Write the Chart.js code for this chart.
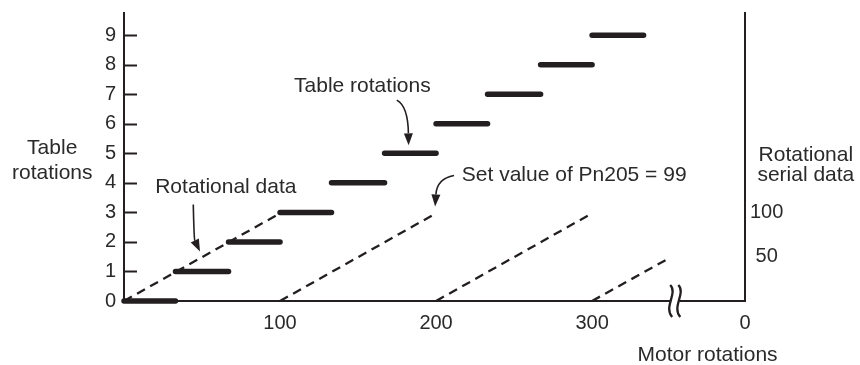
<!DOCTYPE html>
<html>
<head>
<meta charset="utf-8">
<script src="https://cdn.jsdelivr.net/npm/chart.js@4.4.1/dist/chart.umd.min.js"></script>
<style>
  html, body { margin: 0; padding: 0; background: #fff; }
  #wrap { width: 860px; height: 365px; }
</style>
</head>
<body>
<div id="wrap"><canvas id="chart"></canvas></div>
<script>
// table rotations, one flat step per level (motor rotations)
var stepLevels = [0, 1, 2, 3, 4, 5, 6, 7, 8, 9];
var stepStart = [0, 33, 67, 100, 133, 167, 200, 233, 267, 300];
var stepEnd = [33, 67, 100, 133, 167, 200, 233, 267, 300, 333];

// rotational serial data (right axis), starts again every 100 motor rotations
var serialStart = [0, 100, 200, 300];
var serialEnd = [100, 200, 300, 348];
var serialTop = [99, 99, 99, 47];

var leftTicks = [0, 1, 2, 3, 4, 5, 6, 7, 8, 9];
var rightTicks = [50, 100];
var xTicks = [100, 200, 300, 398];
var xTickLabels = ['100', '200', '300', '0'];

var xMax = 398;
var leftMax = 9.75;
var rightMax = leftMax * 100 / 3; // serial 100 lines up with table 3

var ink = '#231f20';
var txt = '#2a2a2a';
var fontFamily = '"Liberation Sans", Arial, sans-serif';

var stepData = [];
stepLevels.forEach(function (lvl, i) {
    stepData.push({x: stepStart[i], y: lvl}, {x: stepEnd[i], y: lvl}, {x: stepEnd[i], y: null});
});

var serialData = [];
serialStart.forEach(function (s, i) {
    serialData.push({x: s, y: 0}, {x: serialEnd[i], y: serialTop[i]}, {x: serialEnd[i], y: null});
});

// labels and arrows, placed in data units
var notes = [
    {text: 'Table', x: -46, y: 5.17, align: 'center'},
    {text: 'rotations', x: -46, y: 4.32, align: 'center'},
    {text: 'Rotational data', x: 20, y: 3.85, align: 'left'},
    {text: 'Table rotations', x: 109, y: 7.27, align: 'left'},
    {text: 'Set value of Pn205 = 99', x: 216.5, y: 4.25, align: 'left'},
    {text: 'Rotational', x: 437, y: 4.93, align: 'center'},
    {text: 'serial data', x: 437, y: 4.25, align: 'center'},
    {text: 'Motor rotations', x: 374, y: -1.85, align: 'center'}
];
var arrows = [
    {from: [44.4, 3.27], ctrl: [44.9, 2.1], to: [48.7, 1.68]},
    {from: [174.8, 6.8], ctrl: [182, 6.6], to: [182.4, 5.27]},
    {from: [211.5, 4.25], ctrl: [200.6, 4.15], to: [199.4, 3.2]}
];
var breakMarks = [350.7, 355.9];

var extras = {
    id: 'extras',
    afterDraw: function (chart) {
        var ctx = chart.ctx;
        var xs = chart.scales.x, ys = chart.scales.y;
        var area = chart.chartArea;
        ctx.save();

        // inward tick marks on the left axis
        ctx.strokeStyle = ink;
        ctx.lineWidth = 2;
        leftTicks.forEach(function (t) {
            if (t === 0) return;
            var py = Math.round(ys.getPixelForValue(t)) + 0.5;
            ctx.beginPath();
            ctx.moveTo(area.left, py);
            ctx.lineTo(area.left + 13, py);
            ctx.stroke();
        });

        // axis break
        var by = area.bottom;
        var b0 = xs.getPixelForValue(breakMarks[0]);
        var b1 = xs.getPixelForValue(breakMarks[1]);
        ctx.fillStyle = '#fff';
        ctx.fillRect(b0, by - 2, b1 - b0, 4);
        ctx.lineWidth = 2.3;
        breakMarks.forEach(function (bx) {
            var px = xs.getPixelForValue(bx);
            ctx.beginPath();
            ctx.moveTo(px - 1, by - 16);
            ctx.bezierCurveTo(px + 7, by - 8, px - 8, by + 6, px + 1, by + 16);
            ctx.stroke();
        });

        // arrows
        ctx.lineWidth = 1.6;
        ctx.fillStyle = ink;
        arrows.forEach(function (a) {
            var x0 = xs.getPixelForValue(a.from[0]), y0 = ys.getPixelForValue(a.from[1]);
            var cx = xs.getPixelForValue(a.ctrl[0]), cy = ys.getPixelForValue(a.ctrl[1]);
            var x1 = xs.getPixelForValue(a.to[0]), y1 = ys.getPixelForValue(a.to[1]);
            var ang = Math.atan2(y1 - cy, x1 - cx);
            var len = 12, half = 4.5;
            var bx = x1 - len * Math.cos(ang), byy = y1 - len * Math.sin(ang);
            ctx.beginPath();
            ctx.moveTo(x0, y0);
            ctx.quadraticCurveTo(cx, cy, bx, byy);
            ctx.stroke();
            ctx.beginPath();
            ctx.moveTo(x1, y1);
            ctx.lineTo(bx + half * Math.sin(ang), byy - half * Math.cos(ang));
            ctx.lineTo(bx - half * Math.sin(ang), byy + half * Math.cos(ang));
            ctx.closePath();
            ctx.fill();
        });

        // texts
        ctx.fillStyle = txt;
        ctx.font = '21px ' + fontFamily;
        ctx.textBaseline = 'middle';
        notes.forEach(function (n) {
            ctx.textAlign = n.align;
            ctx.fillText(n.text, xs.getPixelForValue(n.x), ys.getPixelForValue(n.y));
        });
        ctx.restore();
    }
};

var ctx = document.getElementById('chart').getContext('2d');
new Chart(ctx, {
    type: 'line',
    data: {
        datasets: [{
            label: 'Table rotations',
            data: stepData,
            yAxisID: 'y',
            borderColor: ink,
            borderWidth: 5.5,
            borderCapStyle: 'round',
            pointRadius: 0,
            spanGaps: false,
            clip: false
        }, {
            label: 'Rotational serial data',
            data: serialData,
            yAxisID: 'y2',
            borderColor: ink,
            borderWidth: 2.3,
            borderDash: [9, 6],
            pointRadius: 0,
            spanGaps: false
        }]
    },
    options: {
        responsive: true,
        maintainAspectRatio: false,
        animation: false,
        events: [],
        layout: { padding: { top: 13, left: 0, right: 0, bottom: 0 } },
        plugins: { legend: { display: false }, tooltip: { enabled: false } },
        scales: {
            x: {
                type: 'linear',
                min: 0,
                max: xMax,
                grid: { display: false, drawTicks: false },
                border: { display: true, color: ink, width: 2 },
                afterBuildTicks: function (scale) {
                    scale.ticks = xTicks.map(function (v) { return {value: v}; });
                },
                ticks: {
                    color: txt,
                    font: { family: fontFamily, size: 20 },
                    padding: 10,
                    maxRotation: 0,
                    autoSkip: false,
                    callback: function (v) {
                        var i = xTicks.indexOf(v);
                        return i >= 0 ? xTickLabels[i] : '';
                    }
                },
                afterFit: function (scale) {
                    scale.height = 64;
                    scale.paddingLeft = 0;
                    scale.paddingRight = 0;
                }
            },
            y: {
                position: 'left',
                min: 0,
                max: leftMax,
                grid: { display: false, drawTicks: false },
                border: { display: true, color: ink, width: 2 },
                afterBuildTicks: function (scale) {
                    scale.ticks = leftTicks.map(function (v) { return {value: v}; });
                },
                ticks: {
                    color: txt,
                    font: { family: fontFamily, size: 20 },
                    padding: 8,
                    autoSkip: false
                },
                afterFit: function (scale) {
                    scale.width = 124;
                    scale.paddingTop = 0;
                    scale.paddingBottom = 0;
                }
            },
            y2: {
                position: 'right',
                min: 0,
                max: rightMax,
                grid: { display: false, drawTicks: false },
                border: { display: true, color: ink, width: 2 },
                afterBuildTicks: function (scale) {
                    scale.ticks = rightTicks.map(function (v) { return {value: v}; });
                },
                ticks: {
                    color: txt,
                    font: { family: fontFamily, size: 20 },
                    padding: 5,
                    crossAlign: 'center',
                    autoSkip: false
                },
                afterFit: function (scale) {
                    scale.width = 115;
                    scale.paddingTop = 0;
                    scale.paddingBottom = 0;
                }
            }
        }
    },
    plugins: [extras]
});
</script>
</body>
</html>
